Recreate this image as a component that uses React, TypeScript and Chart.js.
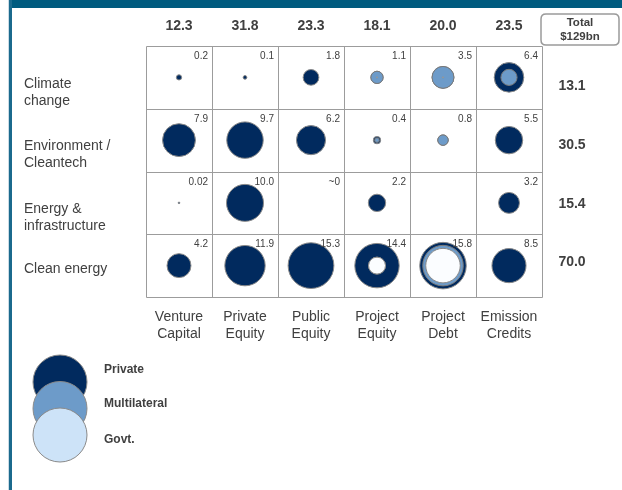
import { useEffect, useRef } from "react";
import { Chart, registerables } from "chart.js";

Chart.register(...registerables);

// ---------- Data ----------
const columnKeys = ["Venture Capital", "Private Equity", "Public Equity", "Project Equity", "Project Debt", "Emission Credits"];
const columnLabelLines = [
  ["Venture", "Capital"],
  ["Private", "Equity"],
  ["Public", "Equity"],
  ["Project", "Equity"],
  ["Project", "Debt"],
  ["Emission", "Credits"],
];
const rowKeys = ["Climate change", "Environment / Cleantech", "Energy & infrastructure", "Clean energy"];
const rowLabelLines = [
  ["Climate", "change"],
  ["Environment /", "Cleantech"],
  ["Energy &", "infrastructure"],
  ["Clean energy"],
];
const columnTotals = ["12.3", "31.8", "23.3", "18.1", "20.0", "23.5"];
const rowTotals = ["13.1", "30.5", "15.4", "70.0"];
const grandTotalLines = ["Total", "$129bn"];

// Total per cell (outer circle area), rows x columns
const cellTotals = [
  [0.2, 0.1, 1.8, 1.1, 3.5, 6.4],
  [7.9, 9.7, 6.2, 0.4, 0.8, 5.5],
  [0.02, 10.0, 0, 2.2, 0, 3.2],
  [4.2, 11.9, 15.3, 14.4, 15.8, 8.5],
];
const cellLabels = [
  ["0.2", "0.1", "1.8", "1.1", "3.5", "6.4"],
  ["7.9", "9.7", "6.2", "0.4", "0.8", "5.5"],
  ["0.02", "10.0", "~0", "2.2", "", "3.2"],
  ["4.2", "11.9", "15.3", "14.4", "15.8", "8.5"],
];
// Multilateral share per cell
const multilateral = [
  [0, 0, 0, 1.09, 3.49, 1.9],
  [0, 0, 0, 0.15, 0.8, 0],
  [0, 0, 0, 0, 0, 0],
  [0, 0, 0, 0, 3.3, 0],
];
// Government share per cell
const govt = [
  [0, 0, 0, 0.01, 0.01, 0],
  [0, 0, 0, 0, 0, 0],
  [0, 0, 0, 0, 0, 0],
  [0, 0, 0, 2.1, 8.7, 0],
];
const seriesNames = ["Private", "Multilateral", "Govt."];
const seriesColors = ["#012a5e", "#6d9bc9", "#cde3f8"];
const cellGovtFill = "#fbfdff";

// ---------- Styling ----------
const FONT = "'Liberation Sans', Arial, Helvetica, sans-serif";
const TEXT = "#404040";
const GRID = "#9c9c9c";
const K = 5.85; // px radius per sqrt(value)

function buildPoints(getValue: (r: number, c: number) => number) {
  const pts: any[] = [];
  rowKeys.forEach((rk, ri) => {
    columnKeys.forEach((ck, ci) => {
      const v = getValue(ri, ci);
      pts.push({ x: ck, y: rk, r: v > 0 ? K * Math.sqrt(v) : 0, v });
    });
  });
  return pts;
}

const decorPlugin = {
  id: "matrixDecor",
  beforeDraw(chart: any) {
    const ctx = chart.ctx;
    ctx.save();
    ctx.fillStyle = "#ffffff";
    ctx.fillRect(0, 0, chart.width, chart.height);
    ctx.fillStyle = "#005b7f";
    ctx.fillRect(8, 0, chart.width - 8, 8);
    ctx.fillStyle = "#c9dbe6";
    ctx.fillRect(8, 0, 1, chart.height);
    ctx.fillStyle = "#1b6a8d";
    ctx.fillRect(9, 0, 3, chart.height);
    ctx.restore();
  },
  beforeDatasetsDraw(chart: any) {
    const ctx = chart.ctx;
    const { left, right, top, bottom } = chart.chartArea;
    const cw = (right - left) / columnKeys.length;
    const rh = (bottom - top) / rowKeys.length;
    ctx.save();
    ctx.strokeStyle = GRID;
    ctx.lineWidth = 1;
    ctx.beginPath();
    for (let i = 0; i <= columnKeys.length; i++) {
      const x = Math.round(left + i * cw) + 0.5;
      ctx.moveTo(x, Math.round(top) + 0.5);
      ctx.lineTo(x, Math.round(bottom) + 0.5);
    }
    for (let j = 0; j <= rowKeys.length; j++) {
      const y = Math.round(top + j * rh) + 0.5;
      ctx.moveTo(Math.round(left) + 0.5, y);
      ctx.lineTo(Math.round(right) + 0.5, y);
    }
    ctx.stroke();
    ctx.restore();
  },
  afterDatasetsDraw(chart: any) {
    const ctx = chart.ctx;
    const { left, right, top, bottom } = chart.chartArea;
    const xs = chart.scales.x;
    const ys = chart.scales.y;
    const cw = (right - left) / columnKeys.length;
    const rh = (bottom - top) / rowKeys.length;
    ctx.save();

    // cell value labels
    ctx.fillStyle = TEXT;
    ctx.font = `10px ${FONT}`;
    ctx.textAlign = "right";
    ctx.textBaseline = "alphabetic";
    cellLabels.forEach((row, ri) => {
      row.forEach((lab, ci) => {
        if (!lab) return;
        const cx = Math.round(left + (ci + 1) * cw) - 4;
        const cy = Math.round(top + ri * rh) + 12.5;
        ctx.fillText(lab, cx, cy);
      });
    });

    // column totals
    ctx.font = `bold 14px ${FONT}`;
    ctx.textAlign = "center";
    ctx.textBaseline = "middle";
    columnTotals.forEach((t, ci) => {
      ctx.fillText(t, xs.getPixelForValue(ci), top - 20);
    });

    // row totals
    rowTotals.forEach((t, ri) => {
      ctx.fillText(t, right + 30, ys.getPixelForValue(ri) + 9 - 4 * ri);
    });

    // total box
    const bx = right - 1, by = 14, bw = 78, bh = 31, rad = 5;
    ctx.strokeStyle = "#9a9a9a";
    ctx.lineWidth = 1.5;
    ctx.beginPath();
    ctx.moveTo(bx + rad, by);
    ctx.lineTo(bx + bw - rad, by);
    ctx.quadraticCurveTo(bx + bw, by, bx + bw, by + rad);
    ctx.lineTo(bx + bw, by + bh - rad);
    ctx.quadraticCurveTo(bx + bw, by + bh, bx + bw - rad, by + bh);
    ctx.lineTo(bx + rad, by + bh);
    ctx.quadraticCurveTo(bx, by + bh, bx, by + bh - rad);
    ctx.lineTo(bx, by + rad);
    ctx.quadraticCurveTo(bx, by, bx + rad, by);
    ctx.stroke();
    ctx.font = `bold 11.5px ${FONT}`;
    ctx.fillStyle = TEXT;
    grandTotalLines.forEach((l, i) => {
      ctx.fillText(l, bx + bw / 2, by + 9 + i * 14);
    });

    // column labels
    ctx.font = `14px ${FONT}`;
    columnLabelLines.forEach((lines, ci) => {
      lines.forEach((l, k) => {
        ctx.fillText(l, xs.getPixelForValue(ci), bottom + 20 + k * 17);
      });
    });

    // row labels
    ctx.textAlign = "left";
    rowLabelLines.forEach((lines, ri) => {
      const base = ys.getPixelForValue(ri) + (lines.length > 1 ? 6.5 : 4);
      lines.forEach((l, k) => {
        ctx.fillText(l, 24, base + k * 17);
      });
    });

    // legend
    const lx = 60, ly0 = 382, lstep = 26.5, lr = 27;
    seriesNames.forEach((name, i) => {
      ctx.beginPath();
      ctx.arc(lx, ly0 + i * lstep, lr, 0, Math.PI * 2);
      ctx.fillStyle = seriesColors[i];
      ctx.fill();
      ctx.strokeStyle = "#8a8a8a";
      ctx.lineWidth = 1;
      ctx.stroke();
    });
    ctx.font = `bold 12px ${FONT}`;
    ctx.fillStyle = TEXT;
    ctx.textAlign = "left";
    const legendTextY = [370, 404, 439.5];
    seriesNames.forEach((name, i) => {
      ctx.fillText(name, 104, legendTextY[i]);
    });

    ctx.restore();
  },
};

export default function App() {
  const canvasRef = useRef<HTMLCanvasElement | null>(null);

  useEffect(() => {
    document.body.style.margin = "0";
    const canvas = canvasRef.current;
    if (!canvas) return;

    const privatePts = buildPoints((r, c) => cellTotals[r][c]);
    const multiPts = buildPoints((r, c) => multilateral[r][c] + govt[r][c]);
    const govtPts = buildPoints((r, c) => govt[r][c]);

    const chart = new Chart(canvas, {
      type: "bubble",
      data: {
        datasets: [
          {
            label: seriesNames[0],
            data: privatePts,
            backgroundColor: seriesColors[0],
            borderColor: "#8a8a8a",
            borderWidth: 1,
            order: 3,
          },
          {
            label: seriesNames[1],
            data: multiPts,
            backgroundColor: seriesColors[1],
            borderColor: "#7a7a7a",
            borderWidth: 1,
            order: 2,
          },
          {
            label: seriesNames[2],
            data: govtPts,
            backgroundColor: cellGovtFill,
            borderColor: "#8a8a8a",
            borderWidth: 1,
            order: 1,
          },
        ],
      },
      options: {
        responsive: false,
        animation: false,
        events: [],
        layout: { padding: { left: 146, top: 46, right: 80, bottom: 193 } },
        plugins: {
          legend: { display: false },
          tooltip: { enabled: false },
        },
        scales: {
          x: { type: "category", labels: columnKeys, offset: true, display: false },
          y: { type: "category", labels: rowKeys, offset: true, display: false },
        },
      },
      plugins: [decorPlugin],
    } as any);

    return () => chart.destroy();
  }, []);

  return (
    <div style={{ width: 622, height: 490 }}>
      <canvas ref={canvasRef} width={622} height={490} style={{ display: "block" }} />
    </div>
  );
}
